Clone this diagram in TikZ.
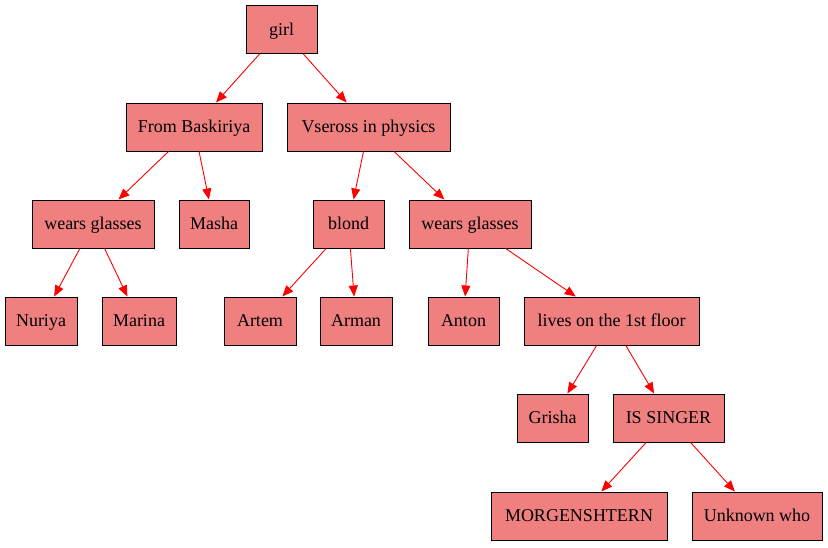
\documentclass[tikz,border=0pt]{standalone}
\usepackage{fontspec}
\setmainfont{Liberation Serif}
\usetikzlibrary{arrows.meta}
\definecolor{boxfill}{HTML}{F08080}
\begin{document}
\begin{tikzpicture}[x=1pt,y=-1pt,
  box/.style={draw=black,fill=boxfill,line width=1pt,minimum height=48pt,inner sep=0pt,text height=14pt,text depth=3pt,font=\fontsize{18pt}{20pt}\selectfont},
  edge/.style={draw=red,line width=0.9pt,-{Triangle[length=11pt,width=9pt]}}]
\useasboundingbox (0,0) rectangle (828,547);
\node[box,minimum width=71pt]  (girl) at (281.5,29.5) {girl};
\node[box,minimum width=136pt] (fb)   at (194,127) {From Baskiriya};
\node[box,minimum width=163pt] (vp)   at (368.5,127) {Vseross in physics};
\node[box,minimum width=122pt] (wg1)  at (93,224) {wears glasses};
\node[box,minimum width=70pt]  (masha) at (214,224) {Masha};
\node[box,minimum width=71pt]  (blond) at (348.5,224) {blond};
\node[box,minimum width=122pt] (wg2)  at (470,224) {wears glasses};
\node[box,minimum width=72pt]  (nuriya) at (41,321) {Nuriya};
\node[box,minimum width=74pt]  (marina) at (139,321) {Marina};
\node[box,minimum width=72pt]  (artem) at (260,321) {Artem};
\node[box,minimum width=72pt]  (arman) at (356,321) {Arman};
\node[box,minimum width=71pt]  (anton) at (463.5,321) {Anton};
\node[box,minimum width=175pt] (lives) at (611.5,321) {lives on the 1st floor};
\node[box,minimum width=71pt]  (grisha) at (552.5,418) {Grisha};
\node[box,minimum width=111pt] (singer) at (668.5,418) {IS SINGER};
\node[box,minimum width=176pt] (morg) at (579,516) {MORGENSHTERN};
\node[box,minimum width=130pt] (unk)  at (757,516) {Unknown who};
\draw[edge] (girl) -- (fb);
\draw[edge] (girl) -- (vp);
\draw[edge] (fb) -- (wg1);
\draw[edge] (fb) -- (masha);
\draw[edge] (vp) -- (blond);
\draw[edge] (vp) -- (wg2);
\draw[edge] (wg1) -- (nuriya);
\draw[edge] (wg1) -- (marina);
\draw[edge] (blond) -- (artem);
\draw[edge] (blond) -- (arman);
\draw[edge] (wg2) -- (anton);
\draw[edge] (wg2) -- (lives);
\draw[edge] (lives) -- (grisha);
\draw[edge] (lives) -- (singer);
\draw[edge] (singer) -- (morg);
\draw[edge] (singer) -- (unk);
\end{tikzpicture}
\end{document}
